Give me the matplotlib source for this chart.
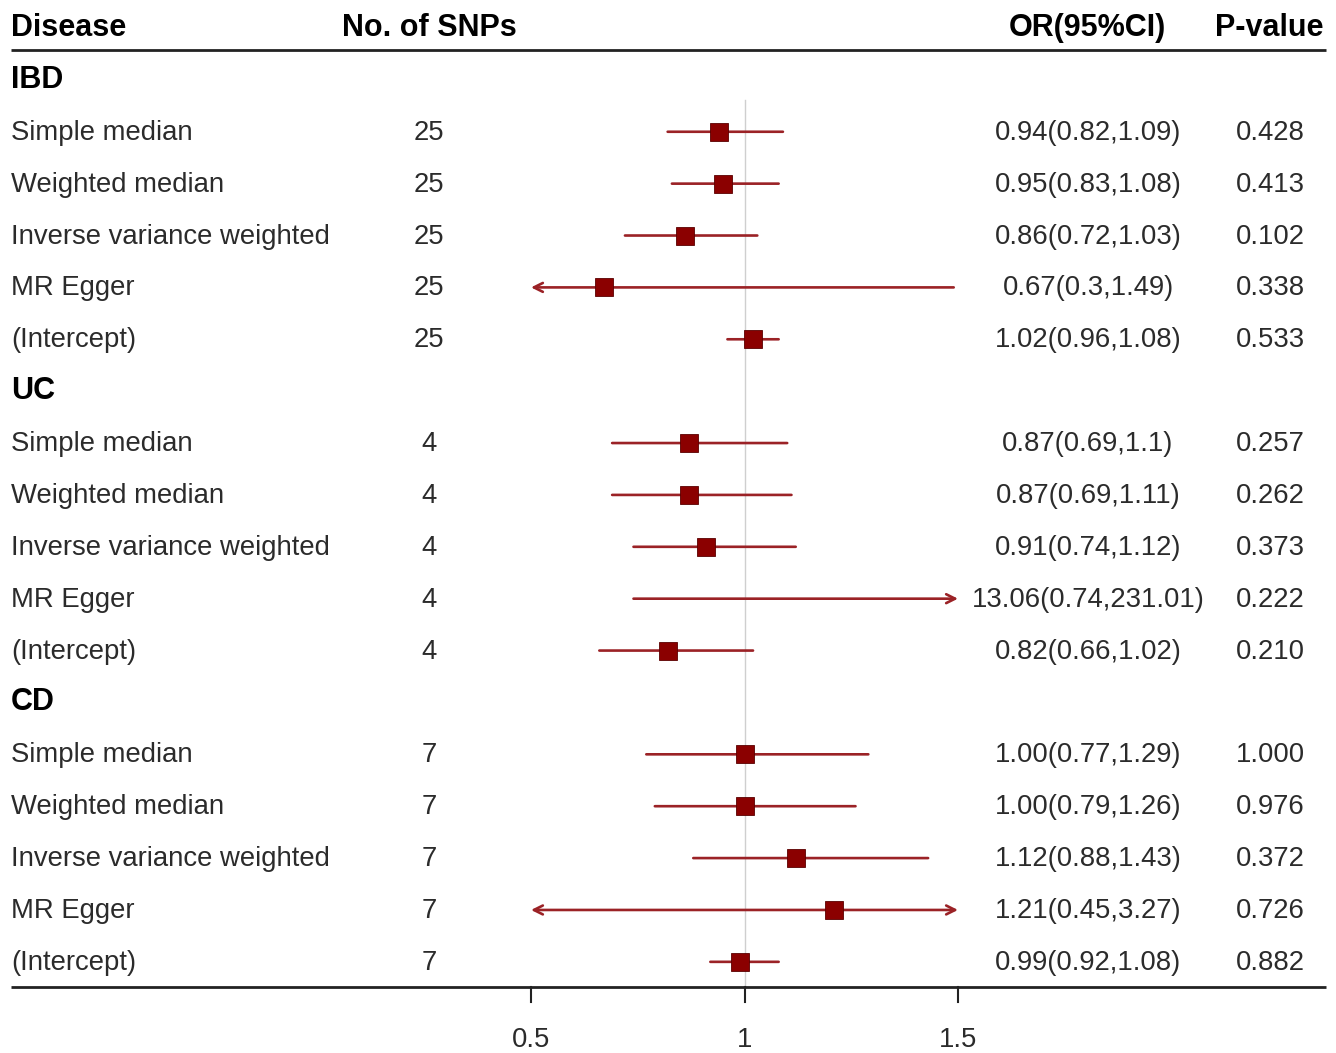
import matplotlib.pyplot as plt

plt.rcParams['font.family'] = ['Liberation Sans', 'DejaVu Sans']

# groups and rows
groups = ["IBD", "UC", "CD"]
methods = ["Simple median", "Weighted median", "Inverse variance weighted",
           "MR Egger", "(Intercept)"]
n_snps = [25, 4, 7]

or_vals = [[0.94, 0.95, 0.86, 0.67, 1.02],
           [0.87, 0.87, 0.91, 13.06, 0.82],
           [1.00, 1.00, 1.12, 1.21, 0.99]]
ci_low = [[0.82, 0.83, 0.72, 0.3, 0.96],
          [0.69, 0.69, 0.74, 0.74, 0.66],
          [0.77, 0.79, 0.88, 0.45, 0.92]]
ci_high = [[1.09, 1.08, 1.03, 1.49, 1.08],
           [1.1, 1.11, 1.12, 231.01, 1.02],
           [1.29, 1.26, 1.43, 3.27, 1.08]]
or_text = [["0.94(0.82,1.09)", "0.95(0.83,1.08)", "0.86(0.72,1.03)", "0.67(0.3,1.49)", "1.02(0.96,1.08)"],
           ["0.87(0.69,1.1)", "0.87(0.69,1.11)", "0.91(0.74,1.12)", "13.06(0.74,231.01)", "0.82(0.66,1.02)"],
           ["1.00(0.77,1.29)", "1.00(0.79,1.26)", "1.12(0.88,1.43)", "1.21(0.45,3.27)", "0.99(0.92,1.08)"]]
p_text = [["0.428", "0.413", "0.102", "0.338", "0.533"],
          ["0.257", "0.262", "0.373", "0.222", "0.210"],
          ["1.000", "0.976", "0.372", "0.726", "0.882"]]

x_ticks = [0.5, 1, 1.5]
x_min, x_max = 0.5, 1.5

W, H = 1336, 1053
fig = plt.figure(figsize=(W / 100, H / 100), dpi=100)
ax = fig.add_axes([0, 0, 1, 1])

# pixel -> data mapping (0.5 at px 531, 1.5 at px 958)
px_per_unit = 427.0
x0 = 0.5 - 531 / px_per_unit
x1 = 0.5 + (W - 531) / px_per_unit
row_px = 51.88
y_top = -28 / row_px
y_bot = (H - 28) / row_px
ax.set_xlim(x0, x1)
ax.set_ylim(y_bot, y_top)
ax.axis('off')


def fx(px):
    return x0 + px / px_per_unit


txt_col = '#2b2b2b'
line_col = '#9B2226'
box_col = '#8B0000'
fs = 19.8
fs_b = 22

# header
ax.text(fx(11), 0, "Disease", fontsize=fs_b, fontweight='bold', va='center', ha='left')
ax.text(fx(429), 0, "No. of SNPs", fontsize=fs_b, fontweight='bold', va='center', ha='center')
ax.text(fx(1087), 0, "OR(95%CI)", fontsize=fs_b, fontweight='bold', va='center', ha='center')
ax.text(fx(1269), 0, "P-value", fontsize=fs_b, fontweight='bold', va='center', ha='center')

ax.plot([fx(11), fx(1326)], [0.42, 0.42], color='#222222', lw=2, solid_capstyle='butt')
ax.plot([fx(11), fx(1326)], [18.48, 18.48], color='#222222', lw=2, solid_capstyle='butt')

# reference line
ax.plot([1, 1], [1.39, 18.48], color='#cfcfcf', lw=1, zorder=1)

row = 1
for g, grp in enumerate(groups):
    ax.text(fx(11), row, grp, fontsize=fs_b, fontweight='bold', va='center', ha='left')
    row += 1
    for m, meth in enumerate(methods):
        y = row + 0.02
        ax.text(fx(11), y, meth, fontsize=fs, color=txt_col, va='center', ha='left')
        ax.text(fx(429), y, str(n_snps[g]), fontsize=fs, color=txt_col, va='center', ha='center')
        ax.text(fx(1088), y, or_text[g][m], fontsize=fs, color=txt_col, va='center', ha='center')
        ax.text(fx(1270), y, p_text[g][m], fontsize=fs, color=txt_col, va='center', ha='center')

        lo, hi, est = ci_low[g][m], ci_high[g][m], or_vals[g][m]
        lo_c, hi_c = max(lo, x_min), min(hi, x_max)
        if lo < x_min and hi > x_max:
            style = '<->'
        elif lo < x_min:
            style = '<-'
        elif hi > x_max:
            style = '->'
        else:
            style = '-'
        ax.annotate('', xy=(hi_c, row), xytext=(lo_c, row),
                    arrowprops=dict(arrowstyle=style, color=line_col, lw=1.9,
                                    shrinkA=0, shrinkB=0, mutation_scale=16),
                    zorder=2)
        if x_min <= est <= x_max:
            ax.plot(est, row, marker='s', markersize=13, color=box_col,
                    markeredgecolor='#5a0000', markeredgewidth=0.6, zorder=3)
        row += 1

# x axis ticks
for t in x_ticks:
    ax.plot([t, t], [18.48, 18.78], color='#222222', lw=1.5)
    ax.text(t, 19.5, f"{t:g}", fontsize=fs, color=txt_col, va='center', ha='center')

fig.savefig("out.png", dpi=100)
